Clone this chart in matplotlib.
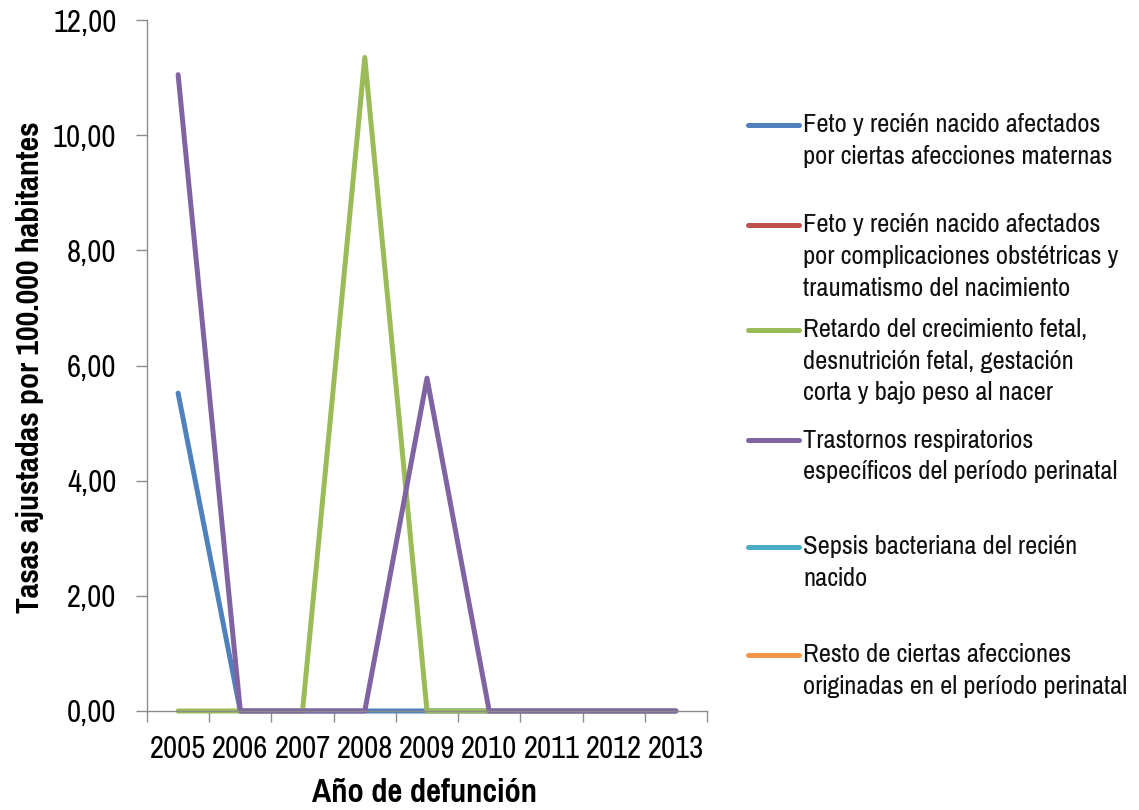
import numpy as np
import matplotlib
matplotlib.use("Agg")
import matplotlib.pyplot as plt
from matplotlib.lines import Line2D
from matplotlib import font_manager

# --- data -------------------------------------------------------------
years = ["2005", "2006", "2007", "2008", "2009", "2010", "2011", "2012", "2013"]

afecciones_maternas = [5.52, 0, 0, 0, 0, 0, 0, 0, 0]
complicaciones_obstetricas = [np.nan] * 9
retardo_crecimiento = [0, 0, 0, 11.35, 0, 0, 0, 0, 0]
trastornos_respiratorios = [11.05, 0, 0, 0, 5.78, 0, 0, 0, 0]
sepsis_bacteriana = [np.nan] * 9
resto_afecciones = [np.nan] * 9

series_labels = [
    ["Feto y recién nacido afectados", "por ciertas afecciones maternas"],
    ["Feto y recién nacido afectados", "por complicaciones obstétricas y",
     "traumatismo del nacimiento"],
    ["Retardo del crecimiento fetal,", "desnutrición fetal, gestación",
     "corta y bajo peso al nacer"],
    ["Trastornos respiratorios", "específicos del período perinatal"],
    ["Sepsis bacteriana del recién", "nacido"],
    ["Resto de ciertas afecciones", "originadas en el período perinatal"],
]
series_colors = ["#4F81BD", "#C0504D", "#9BBB59", "#8064A2", "#4BACC6", "#F79646"]

y_ticks = [0, 2, 4, 6, 8, 10, 12]

# --- fonts ------------------------------------------------------------
available = {f.name for f in font_manager.fontManager.ttflist}
family = next(f for f in ["Pragati Narrow", "Roboto Condensed", "Liberation Sans"]
              if f in available)
plt.rcParams["font.family"] = [family, "DejaVu Sans"]

W, H = 1139, 810
fig = plt.figure(figsize=(W / 100, H / 100), dpi=100)
ax = fig.add_axes([147 / W, 1 - 711 / H, (707 - 147) / W, (711 - 20) / H])

all_series = [afecciones_maternas, complicaciones_obstetricas, retardo_crecimiento,
              trastornos_respiratorios, sepsis_bacteriana, resto_afecciones]
x = np.arange(len(years))
for vals, col in zip(all_series, series_colors):
    ax.plot(x, vals, color=col, lw=3.6, solid_capstyle="round",
            solid_joinstyle="round", clip_on=False)

ax.set_xlim(-0.5, len(years) - 0.5)
ax.set_ylim(0, 12)

spine_col = "#8C8C8C"
for s in ["top", "right"]:
    ax.spines[s].set_visible(False)
for s in ["left", "bottom"]:
    ax.spines[s].set_color(spine_col)
    ax.spines[s].set_linewidth(1.0)

# category boundaries carry the tick marks; labels sit at category centres
ax.set_xticks(np.arange(-0.5, len(years)), labels=[""] * (len(years) + 1))
ax.set_xticks(x, labels=years, minor=True)
ax.tick_params(axis="x", which="major", length=8, width=1, color=spine_col, direction="out")
ax.tick_params(axis="x", which="minor", length=0, pad=17, labelsize=24)

ax.set_yticks(y_ticks, labels=[f"{v:.2f}".replace(".", ",") for v in y_ticks])
ax.tick_params(axis="y", length=8, width=1, color=spine_col, direction="out",
               pad=14, labelsize=24)

fig.text(425 / W, 1 - 793 / H, "Año de defunción", ha="center", va="center",
         fontsize=25.5, fontweight="bold")
fig.text(30 / W, 1 - 367 / H, "Tasas ajustadas por 100.000 habitantes", ha="center",
         va="center", rotation=90, fontsize=25, fontweight="bold")

# legend, one entry per series with wrapped label lines
first_line_y = [125, 225, 330, 440, 547, 655]
line_step = 31.5
for lines, col, y0 in zip(series_labels, series_colors, first_line_y):
    fig.add_artist(Line2D([748 / W, 799 / W], [1 - y0 / H, 1 - y0 / H], color=col,
                          lw=3.6, solid_capstyle="round", transform=fig.transFigure))
    for i, t in enumerate(lines):
        fig.text(803 / W, 1 - (y0 + i * line_step) / H, t, ha="left", va="center",
                 fontsize=20.8, color="#111111")

fig.savefig("out.png", dpi=100)
